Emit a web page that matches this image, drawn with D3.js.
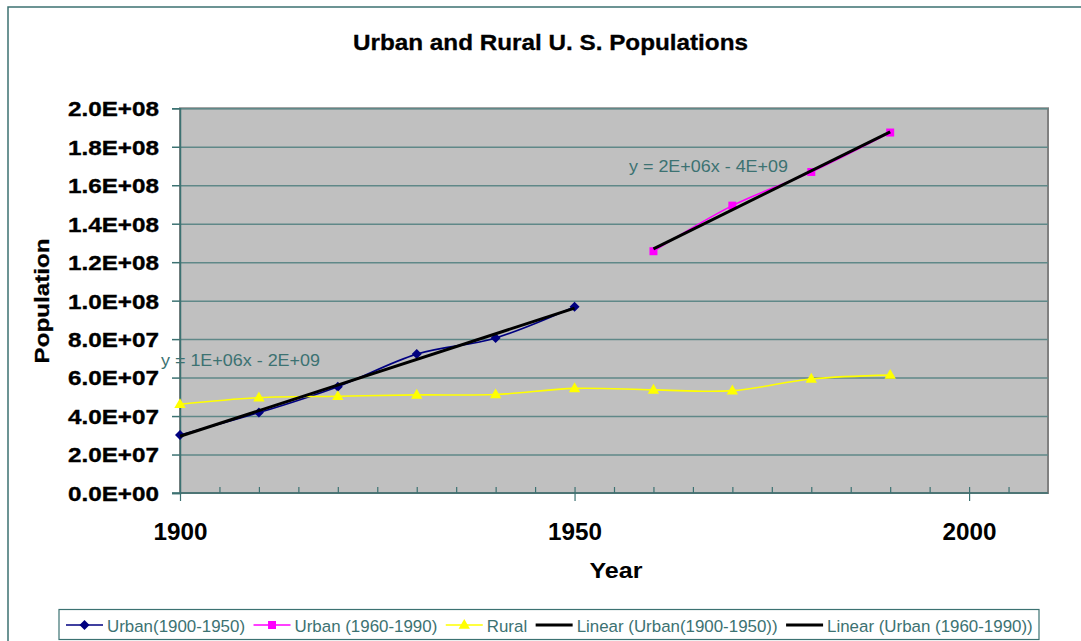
<!DOCTYPE html>
<html>
<head>
<meta charset="utf-8">
<title>Urban and Rural U. S. Populations</title>
<script src="https://d3js.org/d3.v7.min.js"></script>
<style>
  body { margin: 0; background: #fff; }
  svg text { font-family: "Liberation Sans", Arial, sans-serif; }
</style>
</head>
<body>
<svg id="chart" width="1081" height="641"></svg>
<script>
// ---- data ----
var urbanYears1 = [1900, 1910, 1920, 1930, 1940, 1950];
var urbanPop1   = [30.2e6, 41.8e6, 55.3e6, 72.2e6, 80.6e6, 96.8e6];
var urbanYears2 = [1960, 1970, 1980, 1990];
var urbanPop2   = [125.7e6, 149.4e6, 166.9e6, 187.4e6];
var ruralYears  = [1900, 1910, 1920, 1930, 1940, 1950, 1960, 1970, 1980, 1990];
var ruralPop    = [46.1e6, 49.6e6, 50.3e6, 51.0e6, 51.2e6, 54.4e6, 53.6e6, 53.2e6, 59.3e6, 61.3e6];
var xTickLabels = [1900, 1950, 2000];
var yTickValues = [0, 2e7, 4e7, 6e7, 8e7, 1e8, 1.2e8, 1.4e8, 1.6e8, 1.8e8, 2e8];
var legendLabels = ["Urban(1900-1950)", "Urban (1960-1990)", "Rural",
                    "Linear (Urban(1900-1950))", "Linear (Urban (1960-1990))"];

var teal = "#3c7272", gridCol = "#5f8888";

var svg = d3.select("#chart");

// outer chart frame
svg.append("rect").attr("x", 8).attr("y", 7).attr("width", 1100).attr("height", 700)
  .attr("fill", "#fff").attr("stroke", teal).attr("stroke-width", 1.5);

var x = d3.scaleLinear().domain([1900, 2010]).range([180, 1048]);
var y = d3.scaleLinear().domain([0, 2e8]).range([493, 108.3]);

// plot area
svg.append("rect")
  .attr("x", x(1900)).attr("y", y(2e8))
  .attr("width", x(2010) - x(1900)).attr("height", y(0) - y(2e8))
  .attr("fill", "#c0c0c0").attr("stroke", "#808080").attr("stroke-width", 2);

function sci(v) {
  if (v === 0) return "0.0E+00";
  var e = Math.floor(Math.log10(v));
  var m = v / Math.pow(10, e);
  return m.toFixed(1) + "E+" + (e < 10 ? "0" : "") + e;
}

// gridlines
svg.append("g").attr("transform", "translate(" + x(1900) + ",0)")
  .call(d3.axisLeft(y).tickValues(yTickValues.slice(1)).tickSize(-(x(2010) - x(1900))).tickFormat(""))
  .call(function(g) {
    g.select(".domain").remove();
    g.selectAll("line").attr("stroke", gridCol).attr("stroke-width", 1.5);
  });

// y axis
var yAxis = svg.append("g").attr("transform", "translate(" + x(1900) + ",0)")
  .call(d3.axisLeft(y).tickValues(yTickValues).tickSize(8).tickPadding(13).tickFormat(sci));
yAxis.select(".domain").attr("stroke", teal).attr("stroke-width", 1.5);
yAxis.selectAll("line").attr("stroke", teal).attr("stroke-width", 1.5);
yAxis.selectAll("text")
  .attr("fill", "#000").attr("font-size", 20.5).attr("font-weight", "bold")
  .attr("stroke", "#000").attr("stroke-width", 0.35)
  .attr("dy", "0.36em")
  .attr("textLength", 91).attr("lengthAdjust", "spacingAndGlyphs");

// x axis: minor ticks upward, major ticks downward with labels
var minor = svg.append("g").attr("transform", "translate(0," + y(0) + ")")
  .call(d3.axisBottom(x).tickValues(d3.range(1905, 2010, 5)).tickSize(-6).tickFormat(""));
minor.select(".domain").remove();
minor.selectAll("line").attr("stroke", teal).attr("stroke-width", 1.2);

var xAxis = svg.append("g").attr("transform", "translate(0," + y(0) + ")")
  .call(d3.axisBottom(x).tickValues(xTickLabels).tickSize(8).tickPadding(22).tickFormat(d3.format("d")));
xAxis.select(".domain").attr("d", "M" + (x(1900) - 8) + ",0H" + x(2010))
  .attr("stroke", teal).attr("stroke-width", 1.5);
xAxis.selectAll("line").attr("stroke", teal).attr("stroke-width", 1.2);
xAxis.selectAll("text").attr("fill", "#000").attr("font-size", 24).attr("font-weight", "bold")
  .attr("textLength", 54).attr("lengthAdjust", "spacingAndGlyphs");

// titles
svg.append("text").attr("x", 550.5).attr("y", 50).attr("text-anchor", "middle")
  .attr("font-size", 21.5).attr("font-weight", "bold")
  .attr("stroke", "#000").attr("stroke-width", 0.3)
  .attr("textLength", 395).attr("lengthAdjust", "spacingAndGlyphs")
  .text("Urban and Rural U. S. Populations");
svg.append("text").attr("x", 616).attr("y", 578).attr("text-anchor", "middle")
  .attr("font-size", 22).attr("font-weight", "bold")
  .attr("textLength", 53).attr("lengthAdjust", "spacingAndGlyphs")
  .text("Year");
svg.append("text").attr("transform", "translate(49,301) rotate(-90)").attr("text-anchor", "middle")
  .attr("font-size", 21).attr("font-weight", "bold")
  .attr("stroke", "#000").attr("stroke-width", 0.3)
  .attr("textLength", 125).attr("lengthAdjust", "spacingAndGlyphs")
  .text("Population");

// series
var smooth = d3.line().curve(d3.curveCardinal).x(function(d) { return x(d[0]); }).y(function(d) { return y(d[1]); });
var series = [
  { years: urbanYears1, pop: urbanPop1, color: "#000080", sym: "diamond" },
  { years: urbanYears2, pop: urbanPop2, color: "#ff00ff", sym: "square" },
  { years: ruralYears,  pop: ruralPop,  color: "#ffff00", sym: "triangle" }
];

function marker(sel, sym, color) {
  if (sym === "diamond") {
    sel.append("path").attr("d", d3.symbol(d3.symbolSquare, 50)()).attr("transform", "rotate(45)").attr("fill", color);
  } else if (sym === "square") {
    sel.append("path").attr("d", d3.symbol(d3.symbolSquare, 64)()).attr("fill", color);
  } else {
    sel.append("path").attr("d", d3.symbol(d3.symbolTriangle, 56)()).attr("transform", "translate(0,0.5)").attr("fill", color);
  }
}

// least squares trend
function fit(xs, ys) {
  var mx = d3.mean(xs), my = d3.mean(ys);
  var sxy = d3.sum(xs, function(v, i) { return (v - mx) * (ys[i] - my); });
  var sxx = d3.sum(xs, function(v) { return (v - mx) * (v - mx); });
  var b = sxy / sxx;
  return { b: b, a: my - b * mx };
}

series.forEach(function(s) {
  var pts = s.years.map(function(yr, i) { return [yr, s.pop[i]]; });
  svg.append("path").attr("d", smooth(pts)).attr("fill", "none")
    .attr("stroke", s.color).attr("stroke-width", 1.6);
  svg.selectAll(null).data(pts).enter().append("g")
    .attr("transform", function(d) { return "translate(" + x(d[0]) + "," + y(d[1]) + ")"; })
    .each(function() { marker(d3.select(this), s.sym, s.color); });
});

// trend lines
[[urbanYears1, urbanPop1], [urbanYears2, urbanPop2]].forEach(function(p) {
  var f = fit(p[0], p[1]);
  var x0 = d3.min(p[0]), x1 = d3.max(p[0]);
  svg.append("line")
    .attr("x1", x(x0)).attr("y1", y(f.a + f.b * x0))
    .attr("x2", x(x1)).attr("y2", y(f.a + f.b * x1))
    .attr("stroke", "#000").attr("stroke-width", 3);
});

// trend equations
svg.append("text").attr("x", 161).attr("y", 366).attr("fill", teal)
  .attr("font-size", 16.5).attr("textLength", 159).attr("lengthAdjust", "spacingAndGlyphs")
  .text("y = 1E+06x - 2E+09");
svg.append("text").attr("x", 629).attr("y", 171.5).attr("fill", teal)
  .attr("font-size", 16.5).attr("textLength", 159).attr("lengthAdjust", "spacingAndGlyphs")
  .text("y = 2E+06x - 4E+09");

// legend
var legend = svg.append("g");
legend.append("rect").attr("x", 59).attr("y", 609.5).attr("width", 980).attr("height", 30)
  .attr("fill", "#fff").attr("stroke", teal).attr("stroke-width", 1.2);
var legendItems = [
  { color: "#000080", sym: "diamond", w: 1.5 },
  { color: "#ff00ff", sym: "square", w: 1.5 },
  { color: "#ffff00", sym: "triangle", w: 1.5 },
  { color: "#000", sym: null, w: 3 },
  { color: "#000", sym: null, w: 3 }
];
var lx = 66;
legendItems.forEach(function(it, i) {
  var g = legend.append("g");
  g.append("line").attr("x1", lx).attr("x2", lx + 37).attr("y1", 625).attr("y2", 625)
    .attr("stroke", it.color).attr("stroke-width", it.w);
  if (it.sym) {
    var m = g.append("g").attr("transform", "translate(" + (lx + 18.5) + ",625)");
    marker(m, it.sym, it.color);
  }
  var t = g.append("text").attr("x", lx + 41).attr("y", 631.5).attr("fill", teal)
    .attr("font-size", 16.9).text(legendLabels[i]);
  lx = lx + 41 + t.node().getComputedTextLength() + 8.5;
});
</script>
</body>
</html>
